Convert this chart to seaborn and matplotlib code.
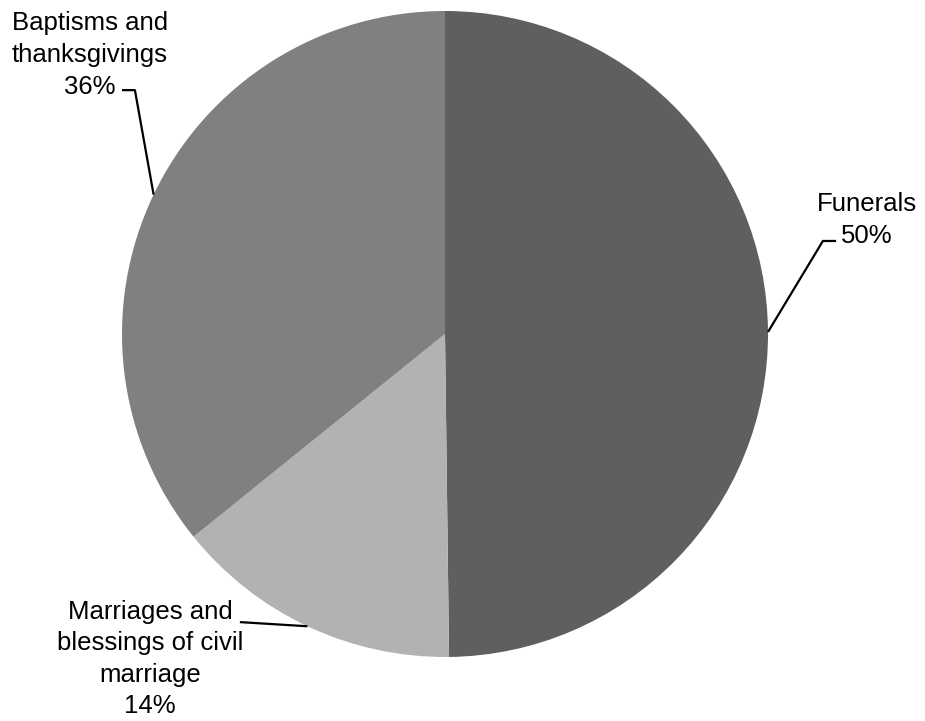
import matplotlib.pyplot as plt
import seaborn as sns
import numpy as np

sns.set_theme(style="white")
plt.rcParams['font.family'] = ['Liberation Sans', 'DejaVu Sans']

# Data
categories = ['Funerals', 'Marriages and\nblessings of civil\nmarriage', 'Baptisms and\nthanksgivings']
shares = [49.8, 14.4, 35.8]
colors = ['#5f5f5f', '#b2b2b2', '#808080']

# Label placement (text centre, elbow points) in axes data units, radius = 1
label_pos = [(1.307, 0.353), (-0.913, -1.006), (-1.099, 0.864)]
leader_pts = [[(1.170, 0.288), (1.211, 0.288)],
              [(-0.635, -0.892)],
              [(-0.960, 0.755), (-1.0, 0.755)]]

W, H, R = 925, 721, 323
cx, cy = 445, 334
fig = plt.figure(figsize=(W / 100, H / 100), dpi=100)
ax = fig.add_axes([0, 0, 1, 1])

wedges, _ = ax.pie(shares, colors=colors, startangle=90, counterclock=False,
                   radius=1, center=(0, 0), frame=True,
                   wedgeprops=dict(linewidth=0))
ax.set_xlim(-cx / R, (W - cx) / R)
ax.set_ylim(-(H - cy) / R, cy / R)
ax.set_aspect('equal')
ax.axis('off')

for w, cat, val, pos, pts in zip(wedges, categories, shares, label_pos, leader_pts):
    ang = np.deg2rad((w.theta1 + w.theta2) / 2)
    start = (np.cos(ang), np.sin(ang))
    xs = [start[0]] + [p[0] for p in pts]
    ys = [start[1]] + [p[1] for p in pts]
    ax.plot(xs, ys, color='black', lw=1.6, solid_capstyle='butt')
    ax.text(pos[0], pos[1], f"{cat}\n{val:.0f}%", ha='center', va='center',
            multialignment='center', fontsize=18.5, color='black', linespacing=1.4)

plt.savefig('out.png', dpi=100)
plt.close()
